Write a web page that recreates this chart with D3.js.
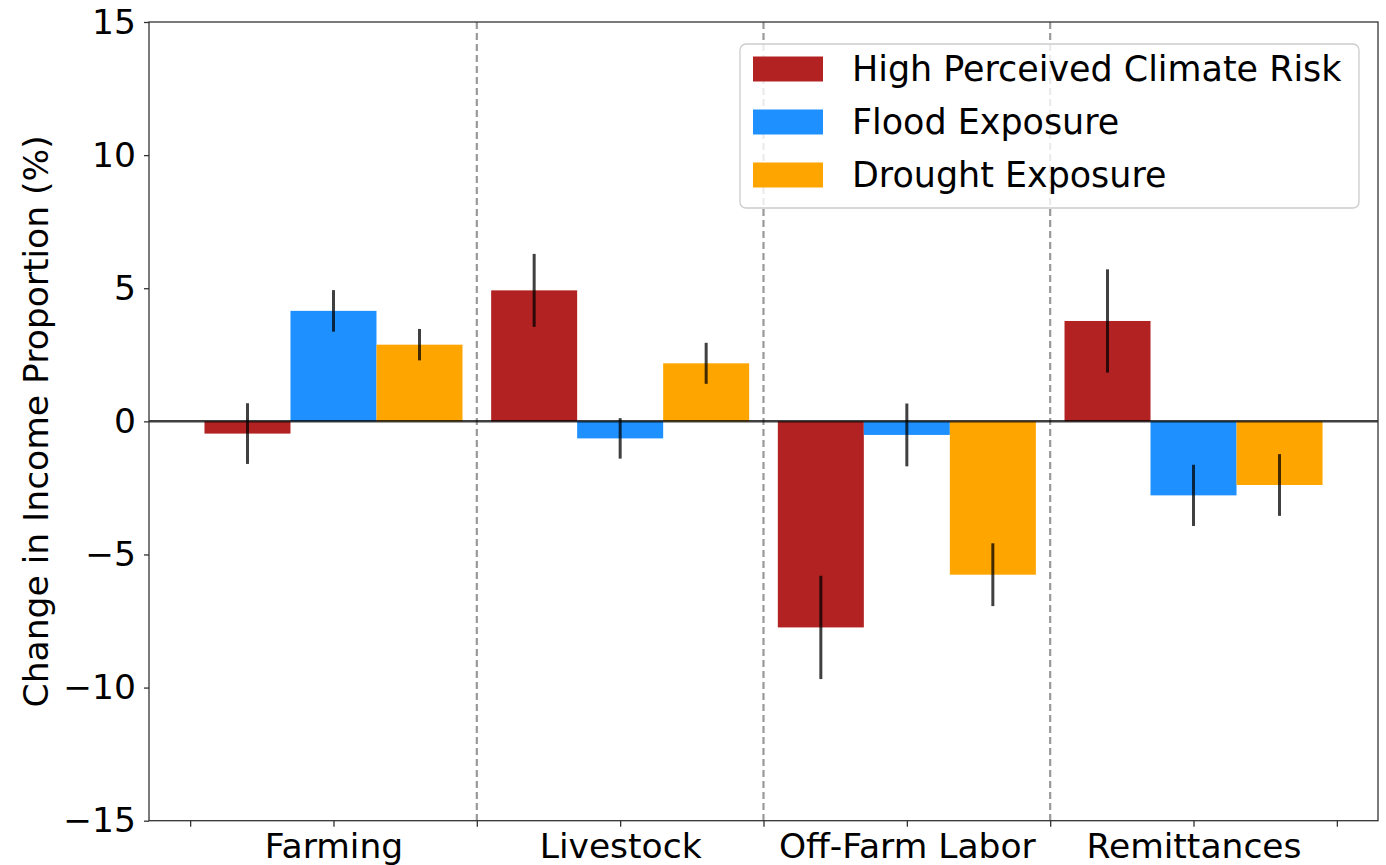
<!DOCTYPE html>
<html>
<head>
<meta charset="utf-8">
<script src="https://cdn.jsdelivr.net/npm/d3@7"></script>
<style>
  html, body { margin: 0; padding: 0; background: #fff; }
  svg { display: block; }
  text { font-family: "DejaVu Sans", sans-serif; }
</style>
</head>
<body>
<svg id="chart" width="1386" height="865"></svg>
<script>
// ---- data ----
const categories = ["Farming", "Livestock", "Off-Farm Labor", "Remittances"];
const seriesNames = ["High Perceived Climate Risk", "Flood Exposure", "Drought Exposure"];
const seriesColors = ["#b22222", "#1e90ff", "#ffa500"];
const highRisk    = [-0.46, 4.92, -7.74, 3.77];
const highRiskErr = [1.14, 1.37, 1.94, 1.94];
const flood       = [4.15, -0.64, -0.51, -2.78];
const floodErr    = [0.78, 0.76, 1.18, 1.15];
const drought     = [2.88, 2.18, -5.76, -2.39];
const droughtErr  = [0.59, 0.77, 1.18, 1.16];
const yTicks = [-15, -10, -5, 0, 5, 10, 15];
const xTickPositions = [0, 1, 2, 3, 4, 5, 6, 7, 8];
const categoryPositions = [1, 3, 5, 7];
const separatorPositions = [2, 4, 6];
const yLabel = "Change in Income Proportion (%)";

const seriesValues = [highRisk, flood, drought];
const seriesErrors = [highRiskErr, floodErr, droughtErr];
const barWidth = 0.6;
const offsets = [-0.6, 0, 0.6];

// ---- layout ----
const svg = d3.select("#chart");
const L = 149, R = 1378, T = 22, B = 820.7;
const fs = 34.5;

const x = d3.scaleLinear().domain([-0.287, 8.287]).range([L, R]);
const y = d3.scaleLinear().domain([-15, 15]).range([B, T]);

// dashed separators
svg.append("g").selectAll("line").data(separatorPositions).join("line")
  .attr("x1", d => x(d)).attr("x2", d => x(d))
  .attr("y1", T).attr("y2", B)
  .attr("stroke", "#999").attr("stroke-width", 2.2)
  .attr("stroke-dasharray", "7,4");

// bars
const barData = [];
seriesValues.forEach((vals, s) => {
  vals.forEach((v, i) => {
    barData.push({ s, i, v, e: seriesErrors[s][i], cx: categoryPositions[i] + offsets[s] });
  });
});

svg.append("g").selectAll("rect").data(barData).join("rect")
  .attr("x", d => x(d.cx - barWidth / 2))
  .attr("width", d => x(d.cx + barWidth / 2) - x(d.cx - barWidth / 2))
  .attr("y", d => y(Math.max(0, d.v)))
  .attr("height", d => Math.abs(y(d.v) - y(0)))
  .attr("fill", d => seriesColors[d.s]);

// zero line
svg.append("line")
  .attr("x1", L).attr("x2", R).attr("y1", y(0)).attr("y2", y(0))
  .attr("stroke", "#000").attr("stroke-opacity", 0.75).attr("stroke-width", 2.5);

// error bars
svg.append("g").selectAll("line").data(barData).join("line")
  .attr("x1", d => x(d.cx)).attr("x2", d => x(d.cx))
  .attr("y1", d => y(d.v - d.e)).attr("y2", d => y(d.v + d.e))
  .attr("stroke", "#000").attr("stroke-opacity", 0.75).attr("stroke-width", 3);

// axes
const labelMap = new Map(categoryPositions.map((p, i) => [p, categories[i]]));
const xAxis = d3.axisBottom(x).tickValues(xTickPositions)
  .tickFormat(d => labelMap.get(d) || "").tickSize(6).tickPadding(7);
const gx = svg.append("g").attr("transform", `translate(0,${B})`).call(xAxis);
gx.select(".domain").remove();
gx.selectAll(".tick line").attr("stroke", "#333").attr("stroke-width", 1.3);
gx.selectAll(".tick text").attr("font-size", fs).attr("fill", "#000")
  .style("font-family", "DejaVu Sans");

const yAxis = d3.axisLeft(y).tickValues(yTicks)
  .tickFormat(d => d < 0 ? "\u2212" + Math.abs(d) : String(d)).tickSize(5).tickPadding(8);
const gy = svg.append("g").attr("transform", `translate(${L},0)`).call(yAxis);
gy.select(".domain").remove();
gy.selectAll(".tick line").attr("stroke", "#333").attr("stroke-width", 1.3);
gy.selectAll(".tick text").attr("font-size", fs).attr("fill", "#000")
  .style("font-family", "DejaVu Sans");

// frame
svg.append("rect").attr("x", L).attr("y", T).attr("width", R - L).attr("height", B - T)
  .attr("fill", "none").attr("stroke", "#333").attr("stroke-width", 1.3);

// y label
svg.append("text")
  .attr("transform", `translate(48,${(T + B) / 2}) rotate(-90)`)
  .attr("text-anchor", "middle")
  .attr("font-size", fs)
  .attr("fill", "#000")
  .text(yLabel);

// legend
const lg = svg.append("g");
lg.append("rect").attr("x", 740).attr("y", 44).attr("width", 619).attr("height", 164)
  .attr("rx", 6).attr("fill", "#fff").attr("fill-opacity", 0.8)
  .attr("stroke", "#ccc").attr("stroke-width", 1.3);
const rows = lg.selectAll("g.row").data(seriesNames).join("g")
  .attr("class", "row")
  .attr("transform", (d, i) => `translate(0,${69 + i * 53})`);
rows.append("rect").attr("x", 753).attr("y", -12.5).attr("width", 70).attr("height", 25)
  .attr("fill", (d, i) => seriesColors[i]);
rows.append("text").attr("x", 852).attr("y", 0).attr("dy", "0.35em")
  .attr("font-size", 34.9).attr("fill", "#000").text(d => d);
</script>
</body>
</html>
